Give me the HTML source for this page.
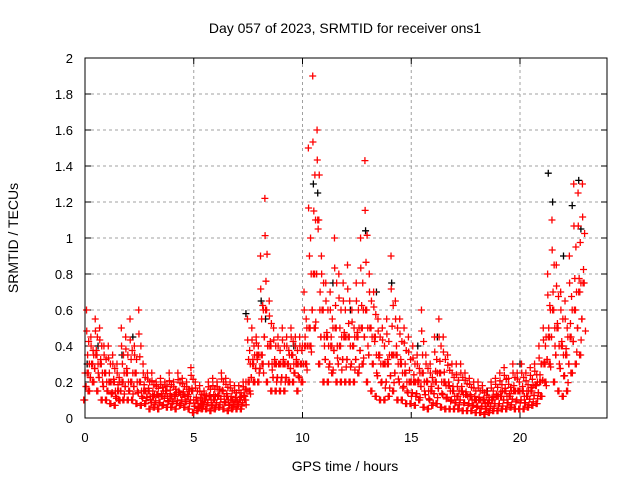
<!DOCTYPE html>
<html><head><meta charset="utf-8"><style>
body{margin:0;background:#fff;}
svg{display:block;font-family:"Liberation Sans",sans-serif;}
</style></head><body>
<svg id="chart" width="640" height="480" xmlns="http://www.w3.org/2000/svg">
<rect width="640" height="480" fill="#fff"/>
<text x="345" y="33" font-size="14" text-anchor="middle">Day 057 of 2023, SRMTID for receiver ons1</text>
<text x="345" y="471" font-size="14" text-anchor="middle">GPS time / hours</text>
<text x="18" y="238" font-size="14" text-anchor="middle" transform="rotate(-90 18 238)">SRMTID / TECUs</text>
<g id="grid"></g><g id="ticks"></g><g id="marks"></g>
<rect x="85" y="58" width="522" height="360" fill="none" stroke="#000" stroke-width="1"/>
</svg>
<script>
const xTicks=[0,5,10,15,20];
const yTicks=[0,0.2,0.4,0.6,0.8,1,1.2,1.4,1.6,1.8,2];
const yTickLabels=["0","0.2","0.4","0.6","0.8","1","1.2","1.4","1.6","1.8","2"];
const redMid=[.25,.3,.35,.3,.25,.2,.2,.15,.2,.25,.2,.25,.2,.15,.15,.12,.13,.12,.15,.12,.12,.14,.13,.12,.15,.1,.08,.1,.12,.1,.12,.15,.12,.1,.1,.1,.12,.2,.3,.35,.35,.6,.4,.3,.3,.3,.3,.35,.3,.3,.4,.5,.8,1.1,.6,.45,.4,.5,.4,.45,.45,.4,.45,.5,.6,.5,.45,.35,.3,.3,.35,.35,.3,.25,.2,.2,.2,.25,.2,.15,.2,.25,.2,.18,.15,.12,.15,.13,.12,.1,.1,.1,.08,.1,.12,.12,.15,.12,.15,.15,.15,.12,.15,.18,.2,.3,.45,.6,.5,.4,.35,.45,.6,.7,.75];
const redHigh=[.6,.45,.55,.5,.4,.4,.35,.3,.5,.45,.55,.4,.6,.3,.25,.25,.2,.22,.2,.25,.2,.25,.22,.2,.28,.2,.18,.15,.2,.22,.2,.25,.22,.2,.18,.18,.2,.55,.5,.45,.9,1.22,.65,.5,.45,.5,.45,.5,.45,.45,.7,1.5,1.9,1.6,.9,.75,.7,1.0,.8,.75,.85,.6,.75,1.0,1.43,.8,.7,.55,.5,.55,.9,.65,.55,.5,.45,.4,.35,.6,.35,.3,.45,.55,.45,.35,.3,.3,.3,.25,.22,.2,.2,.18,.15,.2,.22,.25,.28,.22,.3,.25,.3,.25,.28,.3,.4,.5,.8,1.1,.85,.7,.65,.9,1.3,1.25,1.3];
const redLow=[.1,.15,.2,.15,.1,.1,.08,.07,.1,.1,.1,.1,.08,.07,.08,.05,.06,.05,.07,.06,.06,.05,.07,.06,.05,.03,.04,.05,.05,.04,.05,.06,.05,.04,.05,.05,.05,.1,.15,.2,.2,.3,.2,.15,.15,.15,.15,.2,.2,.15,.2,.3,.4,.5,.3,.2,.2,.25,.2,.2,.2,.2,.2,.25,.3,.2,.15,.12,.1,.1,.12,.15,.1,.1,.08,.08,.07,.1,.06,.05,.07,.08,.06,.05,.05,.05,.05,.04,.04,.04,.03,.03,.02,.03,.04,.04,.05,.05,.06,.05,.05,.05,.06,.07,.08,.12,.2,.3,.2,.15,.12,.15,.25,.3,.35];
const blackT=[0.1,0.6,1.7,2.2,7.4,8.1,8.3,9.6,10.5,10.7,11.4,12.2,12.9,13.4,14.1,15.3,16.2,18.5,20.0,21.3,21.5,22.0,22.4,22.7,22.8];
const blackV=[0.3,0.4,0.35,0.45,0.58,0.65,0.55,0.4,1.3,1.25,0.75,0.6,1.04,0.7,0.75,0.4,0.45,0.15,0.3,1.36,1.2,0.9,1.18,1.32,1.05];
const ns="http://www.w3.org/2000/svg";
const X=t=>85+t*21.75, Y=v=>418-v*180;
function mk(tag,attrs,parent){const e=document.createElementNS(ns,tag);for(const k in attrs)e.setAttribute(k,attrs[k]);parent.appendChild(e);return e;}
const grid=document.getElementById('grid'),ticks=document.getElementById('ticks'),marks=document.getElementById('marks');
xTicks.forEach(t=>{
 const g=mk('line',{x1:X(t),x2:X(t),y1:58,y2:418,stroke:'#a0a0a0','stroke-dasharray':'3,3'},grid);
 
 
 mk('line',{x1:X(t),x2:X(t),y1:418,y2:412,stroke:'#000'},ticks);
 mk('line',{x1:X(t),x2:X(t),y1:58,y2:64,stroke:'#000'},ticks);
 const l=mk('text',{x:X(t),y:442,'font-size':13,'text-anchor':'middle'},ticks);l.textContent=t;
 
 
});
yTicks.forEach((v,i)=>{
 const g=mk('line',{x1:85,x2:607,y1:Y(v),y2:Y(v),stroke:'#a0a0a0','stroke-dasharray':'3,3'},grid);
 
 
 mk('line',{x1:85,x2:91,y1:Y(v),y2:Y(v),stroke:'#000'},ticks);
 mk('line',{x1:607,x2:601,y1:Y(v),y2:Y(v),stroke:'#000'},ticks);
 const l=mk('text',{x:73,y:Y(v)+5,'font-size':13,'text-anchor':'end'},ticks);l.textContent=yTickLabels[i];
 
 
});
function plus(t,v,col){
 const x=X(t),y=Y(v);
 const p=mk('path',{d:`M${x-3.5} ${y}H${x+3.5}M${x} ${y-3.5}V${y+3.5}`,stroke:col,'stroke-width':1.3,fill:'none'},marks);
 
 
}
blackT.forEach((t,i)=>plus(t,blackV[i],'#000'));
const offs=[0,0.07,-0.06];
[redMid,redHigh,redLow].forEach((arr,s)=>arr.forEach((v,i)=>{
 plus(i*0.2+offs[s],v,'#f00');
 plus(i*0.2+0.1+offs[s],(v+redMid[i])/2,'#f00');
 plus(i*0.2+0.05+offs[s],(v+redLow[i])/2,'#f00');
 plus(i*0.2+0.15-offs[s],(2*v+redMid[i])/3,'#f00');
}));
</script>
</body></html>
